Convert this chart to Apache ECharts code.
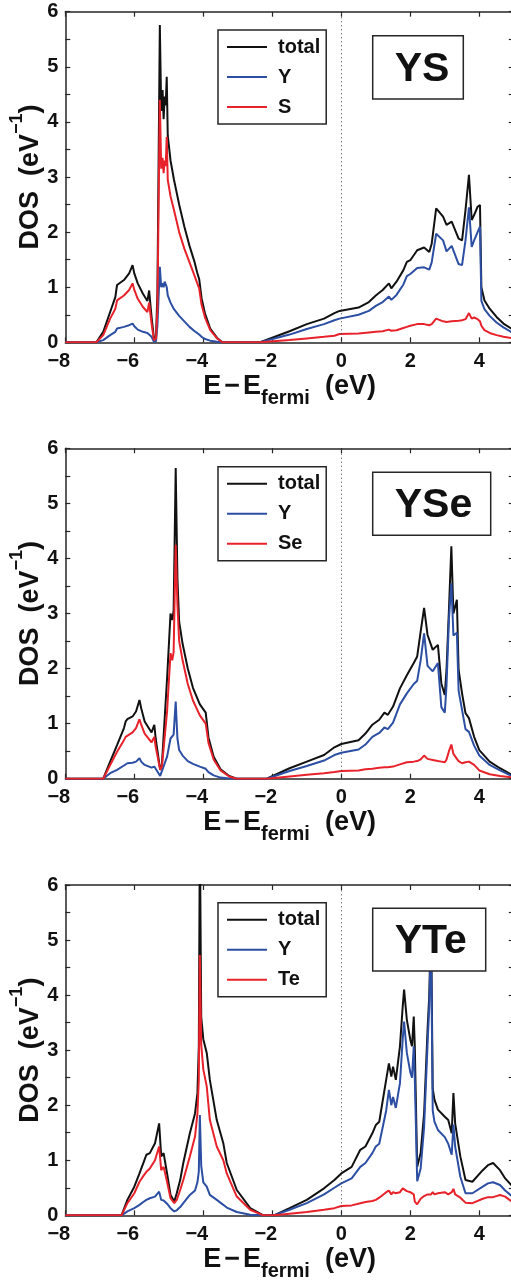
<!DOCTYPE html>
<html><head><meta charset="utf-8">
<script src="https://cdn.jsdelivr.net/npm/echarts/dist/echarts.min.js"></script>
<style>html,body{margin:0;padding:0;background:#fff}#c{width:511px;height:1284px}</style>
</head><body><div id="c"></div>
<script>
// ---------- data (energy E-Efermi in eV, DOS in 1/eV) ----------
const ysE = [-8,-7.1,-6.9,-6.7,-6.55,-6.5,-6.45,-6.3,-6.15,-6.05,-6.0,-5.9,-5.75,-5.62,-5.57,-5.5,-5.43,-5.37,-5.33,-5.26,-5.22,-5.18,-5.15,-5.12,-5.09,-5.06,-5.03,-4.95,-4.85,-4.7,-4.55,-4.4,-4.25,-4.18,-4.12,-4.05,-3.95,-3.8,-3.6,-3.45,
  -2.35,-1.5,-1.0,-0.5,-0.2,-0.05,0.5,0.8,1.0,1.2,1.38,1.45,1.6,1.8,1.9,2.0,2.2,2.4,2.55,2.62,2.75,2.8,2.95,3.05,3.2,3.25,3.4,3.5,3.6,3.7,3.78,3.85,3.95,4.02,4.06,4.15,4.3,4.5,4.7,5.0];
const ysTotal = [0,0,0.19,0.55,0.82,1.04,1.07,1.13,1.25,1.40,1.25,1.07,0.88,0.75,0.94,0.46,0.07,0.1,0.9,5.76,4.2,4.58,4.05,4.46,4.3,4.82,3.75,3.3,2.95,2.5,2.1,1.75,1.45,1.27,1.15,0.8,0.52,0.25,0.08,0,
  0,0.2,0.33,0.43,0.53,0.57,0.63,0.73,0.85,0.95,1.07,0.98,1.1,1.31,1.46,1.49,1.67,1.72,1.64,1.79,2.43,2.4,2.28,2.13,2.19,2.22,1.88,1.85,2.4,3.04,2.22,2.31,2.46,2.49,1.0,0.76,0.61,0.46,0.34,0.22];
const ysY = [0,0,0.04,0.13,0.19,0.25,0.27,0.28,0.31,0.34,0.29,0.23,0.19,0.17,0.2,0.1,0.01,0.02,0.3,1.37,1.0,1.07,1.0,1.1,1.05,1.0,0.85,0.72,0.6,0.48,0.38,0.28,0.2,0.17,0.14,0.1,0.06,0.03,0.01,0,
  0,0.14,0.24,0.33,0.4,0.43,0.5,0.57,0.66,0.73,0.83,0.77,0.86,1.05,1.2,1.24,1.35,1.36,1.32,1.45,1.97,1.97,1.85,1.65,1.75,1.78,1.42,1.40,1.85,2.45,1.73,1.85,2.0,2.1,0.75,0.6,0.48,0.36,0.27,0.16];
const ysS = [0,0,0.13,0.43,0.61,0.76,0.79,0.85,0.95,1.07,0.95,0.79,0.64,0.55,0.72,0.34,0.04,0.07,0.6,4.4,3.15,3.35,3.07,3.3,3.2,3.73,2.95,2.65,2.4,2.0,1.7,1.45,1.2,1.08,0.98,0.68,0.45,0.22,0.07,0,
  0,0.04,0.07,0.1,0.12,0.15,0.16,0.18,0.19,0.2,0.23,0.21,0.22,0.26,0.28,0.3,0.33,0.33,0.31,0.33,0.43,0.42,0.38,0.37,0.38,0.38,0.39,0.4,0.42,0.53,0.43,0.45,0.42,0.38,0.3,0.22,0.17,0.13,0.1,0.07];

const yseE = [-8,-6.9,-6.7,-6.5,-6.3,-6.25,-6.2,-6.05,-5.95,-5.85,-5.8,-5.7,-5.5,-5.42,-5.38,-5.25,-5.2,-5.05,-4.95,-4.9,-4.86,-4.8,-4.75,-4.7,-4.6,-4.45,-4.3,-4.1,-3.93,-3.85,-3.7,-3.5,-3.25,-3.03,
  -2.16,-1.5,-1,-0.5,-0.2,0,0.5,0.7,0.9,1.1,1.25,1.35,1.5,1.7,1.9,2.1,2.2,2.3,2.4,2.5,2.65,2.8,2.9,3.0,3.05,3.12,3.19,3.25,3.35,3.4,3.5,3.6,3.7,3.85,4.0,4.3,4.6,5.0];
const yseTotal = [0,0,0.31,0.61,0.92,1.04,1.08,1.13,1.22,1.43,1.28,1.04,0.84,0.98,0.73,0.16,0.25,1.82,3.0,2.88,3.05,5.64,3.64,2.85,2.45,2.0,1.65,1.35,1.2,0.75,0.4,0.17,0.05,0,
  0,0.19,0.31,0.43,0.57,0.63,0.7,0.82,0.98,1.07,1.2,1.16,1.31,1.64,1.88,2.1,2.22,2.67,3.1,2.61,2.34,2.43,1.73,1.52,1.98,3.07,4.22,3.0,3.25,1.98,1.55,1.19,1.1,0.76,0.52,0.31,0.19,0.05];
const yseY = [0,0,0.1,0.16,0.24,0.26,0.28,0.29,0.31,0.37,0.31,0.25,0.2,0.22,0.18,0.05,0.07,0.4,0.73,0.75,0.8,1.4,0.73,0.52,0.42,0.32,0.27,0.22,0.18,0.12,0.06,0.02,0.005,0,
  0,0.14,0.23,0.33,0.43,0.47,0.53,0.62,0.76,0.83,0.93,0.9,1.02,1.35,1.55,1.72,1.78,2.15,2.64,2.05,1.95,2.1,1.3,1.2,1.7,2.9,3.55,2.6,2.65,1.6,1.25,0.9,0.85,0.6,0.42,0.25,0.15,0.03];
const yseSe = [0,0,0.25,0.49,0.7,0.76,0.79,0.84,0.92,1.08,0.98,0.82,0.66,0.76,0.58,0.16,0.22,1.22,2.28,2.15,2.3,4.25,3.16,2.5,2.15,1.72,1.42,1.15,1.0,0.65,0.35,0.15,0.04,0,
  0,0.04,0.07,0.1,0.12,0.14,0.15,0.17,0.18,0.2,0.21,0.21,0.22,0.26,0.3,0.31,0.32,0.35,0.42,0.36,0.34,0.32,0.31,0.3,0.35,0.5,0.62,0.45,0.36,0.32,0.28,0.3,0.31,0.25,0.15,0.08,0.05,0.02];

const yteE = [-8,-6.37,-6.2,-6.0,-5.85,-5.72,-5.65,-5.55,-5.4,-5.28,-5.22,-5.15,-5.05,-4.95,-4.84,-4.77,-4.67,-4.58,-4.39,-4.24,-4.17,-4.13,-4.1,-4.06,-4.0,-3.9,-3.81,-3.61,-3.42,-3.32,-3.03,-2.64,-2.26,
  -1.95,-1.5,-1,-0.5,-0.2,0,0.3,0.55,0.7,0.9,1.0,1.1,1.3,1.38,1.45,1.5,1.58,1.7,1.78,1.82,1.9,2.0,2.05,2.1,2.13,2.2,2.3,2.4,2.5,2.55,2.6,2.65,2.7,2.8,3.0,3.1,3.2,3.25,3.3,3.45,3.6,3.8,4.1,4.25,4.4,4.6,4.75,5.0];
const yteTotal = [0,0,0.28,0.52,0.76,0.98,1.1,1.13,1.31,1.67,1.07,1.13,0.76,0.37,0.25,0.4,0.64,0.95,1.49,1.85,2.22,3.07,7.0,3.6,3.2,2.95,2.46,1.73,1.31,0.95,0.46,0.13,0,
  0,0.13,0.28,0.49,0.64,0.76,0.88,1.19,1.25,1.49,1.64,1.7,2.46,2.76,2.52,2.7,2.46,3.07,3.79,4.1,3.55,3.19,3.07,3.61,3.07,0.88,1.13,1.85,3.37,4.0,5.4,2.3,2.1,1.92,1.79,1.73,1.49,2.22,1.67,1.07,0.64,0.61,0.82,0.91,0.95,0.82,0.67,0.5];
const yteY = [0,0,0.07,0.13,0.19,0.25,0.28,0.31,0.34,0.43,0.28,0.27,0.21,0.13,0.07,0.09,0.15,0.22,0.37,0.45,0.6,0.8,1.82,0.9,0.6,0.52,0.37,0.28,0.19,0.14,0.06,0.01,0,
  0,0.1,0.22,0.38,0.5,0.58,0.67,0.88,0.95,1.13,1.25,1.3,1.9,2.28,2.0,2.15,1.95,2.4,3.2,3.52,2.95,2.6,2.5,3.07,2.5,0.62,0.85,1.6,3.1,3.8,5.1,1.9,1.7,1.55,1.42,1.3,1.1,1.65,1.25,0.7,0.4,0.4,0.52,0.58,0.6,0.55,0.45,0.32];
const yteTe = [0,0,0.22,0.4,0.61,0.73,0.79,0.85,1.0,1.25,0.82,0.88,0.61,0.31,0.22,0.28,0.46,0.64,1.07,1.43,1.85,2.46,4.73,3.1,2.65,2.34,1.73,1.25,1.0,0.76,0.34,0.1,0,
  0,0.03,0.06,0.1,0.13,0.17,0.18,0.22,0.24,0.26,0.28,0.32,0.42,0.45,0.38,0.42,0.4,0.42,0.49,0.46,0.44,0.42,0.42,0.38,0.25,0.2,0.3,0.35,0.38,0.4,0.38,0.42,0.38,0.4,0.42,0.38,0.42,0.48,0.38,0.32,0.23,0.22,0.3,0.33,0.33,0.37,0.34,0.22];

const xTicks = [-8, -6, -4, -2, 0, 2, 4];
const yTicks = [0, 1, 2, 3, 4, 5, 6];
const seriesNames = ['total', 'Y'];
const compoundNames = ['YS', 'YSe', 'YTe'];
const anionNames = ['S', 'Se', 'Te'];

// ---------- layout / style ----------
const FONT = '"Liberation Sans", Arial, Helvetica, sans-serif';
const AX = '#262626';
const COLORS = { total: '#111111', Y: '#2c4ea3', X: '#e8222b' };
const panels = [
  { E: ysE,  total: ysTotal,  Y: ysY,  X: ysS,   top: 11.7,  height: 330.6, legendTop: 30,    box: [372.7, 35.7, 90.6, 63.3] },
  { E: yseE, total: yseTotal, Y: yseY, X: yseSe, top: 448.3, height: 330.4, legendTop: 466.7, box: [372.7, 472.3, 118, 63] },
  { E: yteE, total: yteTotal, Y: yteY, X: yteTe, top: 885,   height: 330.3, legendTop: 902.7, box: [372.7, 908.3, 113, 62.7] }
];
const pairs = (xs, ys) => xs.map((x, k) => [x, ys[k]]);
const fmtX = v => (xTicks.indexOf(v) < 0 ? '' : (v < 0 ? '{n|\u2212' + Math.abs(v) + '}' : String(v)));
const fmtY = v => (yTicks.indexOf(v) < 0 ? '' : String(v));

const grid = [], xAxis = [], yAxis = [], series = [], legend = [], graphic = [];
const lbl = { color: '#111', fontSize: 20, fontWeight: 'bold', fontFamily: FONT };
panels.forEach((p, i) => {
  grid.push({ left: 65.3, width: 448.5, top: p.top, height: p.height, containLabel: false, outerBoundsMode: 'none' });
  const common = { gridIndex: i, type: 'value', splitLine: { show: false },
    axisLine: { onZero: false, lineStyle: { color: AX, width: 1.5 } },
    axisTick: { inside: true, length: 5, lineStyle: { color: AX, width: 1.2 } } };
  xAxis.push(Object.assign({}, common, { min: -8, max: 5, interval: 2, position: 'bottom',
    axisLabel: Object.assign({ margin: 9, formatter: fmtX, hideOverlap: false,
      rich: { n: Object.assign({ padding: [0, 13, 0, 0] }, lbl) } }, lbl),
    name: '{m|E}{d|\u2212}{m|E}{s|fermi}{m|  (eV)}', nameLocation: 'middle', nameGap: 29, nameMoveOverlap: false,
    nameTextStyle: { rich: {
      m: { fontSize: 27, fontWeight: 'bold', fontFamily: FONT, color: '#111', lineHeight: 30 },
      d: { fontSize: 27, fontWeight: 'bold', fontFamily: FONT, color: '#111', lineHeight: 30, padding: [0, 3, 0, 3] },
      s: { fontSize: 20, fontWeight: 'bold', fontFamily: FONT, color: '#111', lineHeight: 20, padding: [24, 0, 0, 0] } } } }));
  xAxis.push(Object.assign({}, common, { min: -8, max: 5, interval: 2, position: 'top', axisLabel: { show: false } }));
  yAxis.push(Object.assign({}, common, { min: 0, max: 6, interval: 0.5, position: 'left',
    axisLabel: Object.assign({ margin: 7, interval: 0, formatter: fmtY, hideOverlap: false }, lbl),
    name: '{m|DOS  (eV}{p|\u22121}{m|)}', nameLocation: 'middle', nameGap: 20, nameRotate: 90, nameMoveOverlap: false,
    nameTextStyle: { rich: {
      m: { fontSize: 27, fontWeight: 'bold', fontFamily: FONT, color: '#111', lineHeight: 30 },
      p: { fontSize: 18, fontWeight: 'bold', fontFamily: FONT, color: '#111', lineHeight: 18, padding: [0, 0, 27, 0] } } } }));
  yAxis.push(Object.assign({}, common, { min: 0, max: 6, interval: 0.5, position: 'right', axisLabel: { show: false } }));

  const names = [seriesNames[0], seriesNames[1], anionNames[i]];
  const keys = ['total', 'Y', 'X'];
  keys.forEach((k, j) => {
    const s = { type: 'line', name: names[j], xAxisIndex: 2 * i, yAxisIndex: 2 * i,
      data: pairs(p.E, p[k]), symbol: 'none', showSymbol: false, clip: true,
      color: COLORS[k], lineStyle: { color: COLORS[k], width: 2 }, animation: false };
    if (j === 0) {
      s.markLine = { silent: true, symbol: ['none', 'none'], label: { show: false },
        lineStyle: { type: [1, 3], color: '#444', width: 1 }, data: [{ xAxis: 0 }], animation: false };
    }
    series.push(s);
  });

  legend.push({ orient: 'vertical', left: 218, top: p.legendTop, data: names,
    icon: 'rect', itemWidth: 40, itemHeight: 2, itemGap: 10, padding: [7, 6, 7, 9],
    borderColor: AX, borderWidth: 1.5, backgroundColor: '#fff', borderRadius: 0,
    selectedMode: false,
    textStyle: { fontSize: 20, fontWeight: 'bold', fontFamily: FONT, color: '#111', lineHeight: 20, padding: [0, 0, 0, 6] } });

  const b = p.box;
  graphic.push({ type: 'rect', z: 100, shape: { x: b[0], y: b[1], width: b[2], height: b[3] },
    style: { fill: '#fff', stroke: AX, lineWidth: 1.5 } });
  graphic.push({ type: 'text', z: 101, x: b[0] + 22, y: b[1] + b[3] / 2 + 2,
    style: { text: compoundNames[i], fontSize: 41, fontWeight: 'bold', fontFamily: FONT, fill: '#111',
      align: 'left', verticalAlign: 'middle' } });
});

const chart = echarts.init(document.getElementById('c'), null, { renderer: 'canvas' });
chart.setOption({ animation: false, backgroundColor: '#fff', grid, xAxis, yAxis, series, legend, graphic });
</script>
</body></html>
